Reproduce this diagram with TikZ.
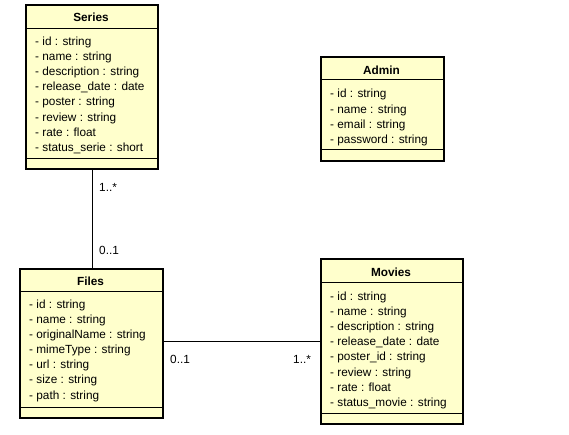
\documentclass[tikz,border=0pt]{standalone}
\usepackage{fontspec}
\setmainfont{Liberation Sans}
\definecolor{umlfill}{RGB}{255,255,204}
\begin{document}
\begin{tikzpicture}[x=1pt,y=-1pt,
  umlbox/.style={draw, line width=2pt, fill=umlfill, inner sep=0pt, anchor=north west},
  sepline/.style={line width=0.9pt},
  attr/.style={anchor=base west, inner sep=0pt, font=\fontsize{11.8}{13}\selectfont},
  ttl/.style={anchor=base, inner sep=0pt, font=\bfseries\fontsize{11.8}{13}\selectfont},
  mult/.style={anchor=base west, inner sep=0pt, font=\fontsize{11.8}{13}\selectfont},
  conn/.style={line width=0.9pt}]
\useasboundingbox (0,0) rectangle (569,434);

% Series
\node[umlbox, minimum width=132pt, minimum height=164pt] (series) at (25,4) {};
\node[ttl] (seriesT) at (91,21) {Series};
\draw[sepline] (series.west |- 0,28) -- (series.east |- 0,28);
\draw[sepline] (series.west |- 0,158) -- (series.east |- 0,158);
\foreach \t [count=\i from 0] in {- id : string, - name : string, - description : string, - release\_date : date, - poster : string, - review : string, - rate : float, - status\_serie : short}
  \node[attr] (seriesA\i) at (35,45.5+15.1*\i) {\t};

% Admin
\node[umlbox, minimum width=123pt, minimum height=104pt] (admin) at (320,56) {};
\node[ttl] (adminT) at (381.5,74.5) {Admin};
\draw[sepline] (admin.west |- 0,79) -- (admin.east |- 0,79);
\draw[sepline] (admin.west |- 0,149) -- (admin.east |- 0,149);
\foreach \t [count=\i from 0] in {- id : string, - name : string, - email : string, - password : string}
  \node[attr] (adminA\i) at (330,97.8+15.3*\i) {\t};

% Files
\node[umlbox, minimum width=143pt, minimum height=149pt] (files) at (19,268) {};
\node[ttl] (filesT) at (90.5,285.5) {Files};
\draw[sepline] (files.west |- 0,291) -- (files.east |- 0,291);
\draw[sepline] (files.west |- 0,407) -- (files.east |- 0,407);
\foreach \t [count=\i from 0] in {- id : string, - name : string, - originalName : string, - mimeType : string, - url : string, - size : string, - path : string}
  \node[attr] (filesA\i) at (29,308+15.17*\i) {\t};

% Movies
\node[umlbox, minimum width=142pt, minimum height=165pt] (movies) at (320,258) {};
\node[ttl] (moviesT) at (391,276.5) {Movies};
\draw[sepline] (movies.west |- 0,282) -- (movies.east |- 0,282);
\draw[sepline] (movies.west |- 0,413) -- (movies.east |- 0,413);
\foreach \t [count=\i from 0] in {- id : string, - name : string, - description : string, - release\_date : date, - poster\_id : string, - review : string, - rate : float, - status\_movie : string}
  \node[attr] (moviesA\i) at (330,300.5+15.1*\i) {\t};

% Connectors
\draw[conn] (series.south) -- (series.south |- files.north);
\draw[conn] (files.east |- 0,341.7) -- (movies.west |- 0,341.7);

% Multiplicities
\node[mult] (m1) at (99,191.5) {1..*};
\node[mult] (m2) at (99,254.5) {0..1};
\node[mult] (m3) at (170,363) {0..1};
\node[mult] (m4) at (293,363) {1..*};
\end{tikzpicture}
\end{document}
